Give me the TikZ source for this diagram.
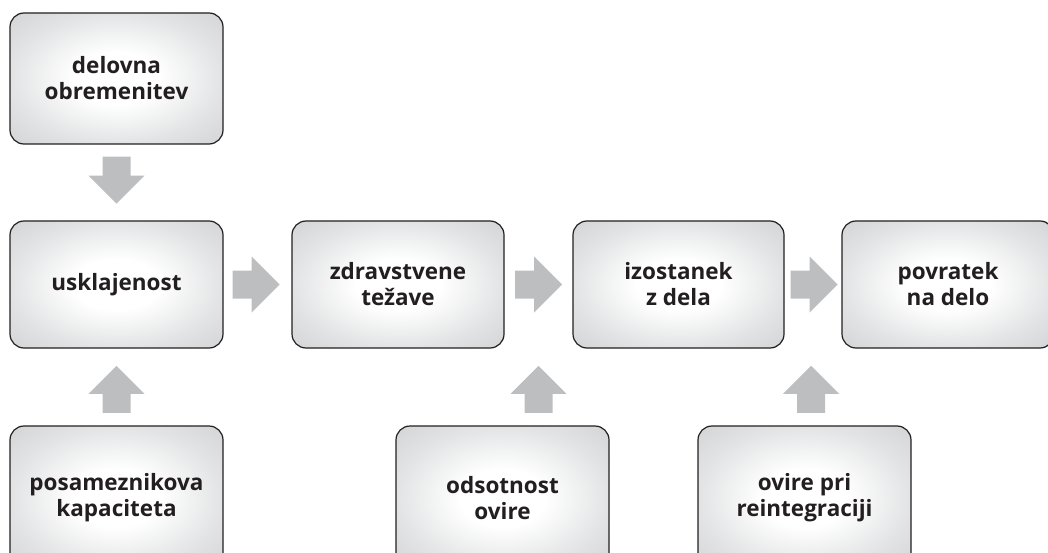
\documentclass[tikz,border=0pt]{standalone}
\usepackage{fontspec}
\usetikzlibrary{calc}
\setmainfont{Open Sans}
\definecolor{txt}{HTML}{231F20}
\definecolor{arrowgray}{HTML}{BCBEC0}
\definecolor{edgegray}{HTML}{E2E3E4}
\definecolor{cornergray}{HTML}{D2D3D5}
\pgfdeclareradialshading{boxshade}{\pgfpoint{0bp}{0bp}}{%
  color(0bp)=(white); color(10bp)=(white); color(25bp)=(edgegray);
  color(36bp)=(cornergray); color(50bp)=(cornergray)}
\tikzset{
  box/.style={draw=txt, line width=1.2pt, rounded corners=14pt,
    shading=boxshade, text=txt,
    font=\fontsize{22.5}{26}\selectfont\bfseries, align=center,
    minimum width=213pt, inner sep=0pt},
  fat/.style={fill=arrowgray, draw=none}
}
\newcommand{\fatarrow}[2]{%
  \path[fat, shift={(#1)}, rotate=#2]
    (-23.5pt,-14pt) -- (-4.5pt,-14pt) -- (-4.5pt,-28pt) -- (23.5pt,0pt)
    -- (-4.5pt,28pt) -- (-4.5pt,14pt) -- (-23.5pt,14pt) -- cycle;}
\begin{document}
\begin{tikzpicture}[x=1pt,y=1pt]
\useasboundingbox (0,0) rectangle (1048,-553);
% top
\node[box, minimum height=131pt] (del) at (116.5,-78.5) {delovna\\obremenitev};
% row 2
\node[box, minimum height=127pt] (usk) at (116.5,-284.5) {usklajenost};
\node[box, minimum height=127pt, minimum width=212pt] (zdr) at (398,-284.5) {zdravstvene\\težave};
\node[box, minimum height=127pt, minimum width=211pt] (izo) at (678.5,-284.5) {izostanek\\z dela};
\node[box, minimum height=127pt, minimum width=212pt] (pov) at (948,-284.5) {povratek\\na delo};
% bottom
\node[box, minimum height=144pt] (pos) at (116.5,-498) {posameznikova\\kapaciteta};
\node[box, minimum height=144pt] (ods) at (502.5,-498) {odsotnost\\ovire};
\node[box, minimum height=144pt] (ovi) at (804.5,-498) {ovire pri\\reintegraciji};
% arrow centres
\coordinate (a0) at ($(del.south)!0.47!(usk.north)$);
\coordinate (a1) at ($(usk.east)!0.48!(zdr.west)$);
\coordinate (a2) at ($(zdr.east)!0.5!(izo.west)$);
\coordinate (a3) at ($(izo.east)!0.52!(pov.west)$);
\coordinate (b1) at ($(usk.south)!0.53!(pos.north)$);
\coordinate (b2) at (a2 |- b1);
\coordinate (b3) at ($(a3 |- b1)+(-3pt,0)$);
\fatarrow{a0}{-90}
\fatarrow{a1}{0}
\fatarrow{a2}{0}
\fatarrow{a3}{0}
\fatarrow{b1}{90}
\fatarrow{b2}{90}
\fatarrow{b3}{90}
\end{tikzpicture}
\end{document}
